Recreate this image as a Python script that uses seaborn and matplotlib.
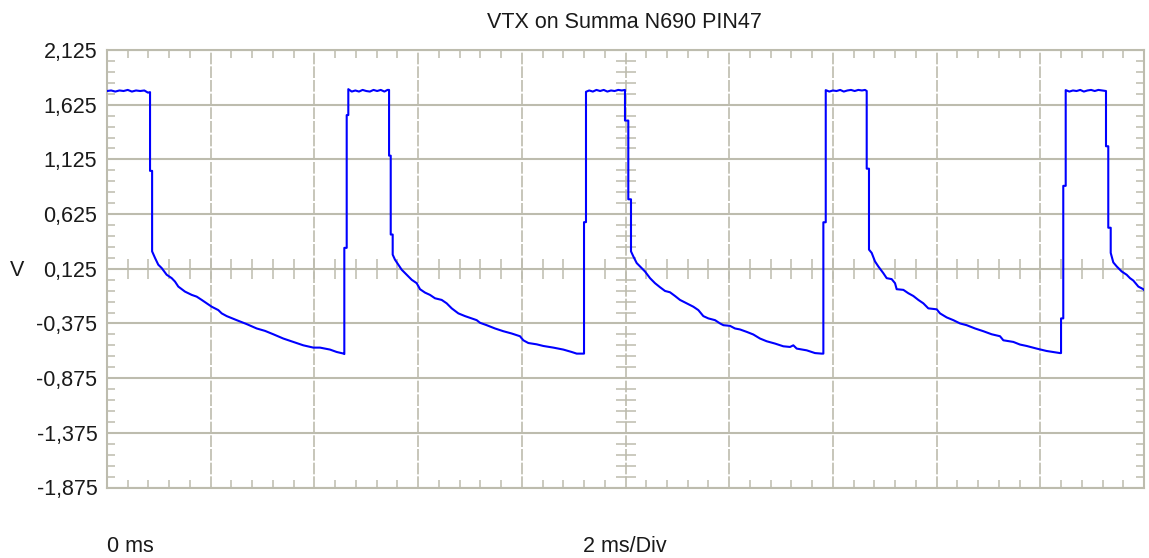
import numpy as np
import pandas as pd
import matplotlib
matplotlib.use("Agg")
import matplotlib.pyplot as plt
from matplotlib.ticker import FuncFormatter
import seaborn as sns

# --- trace values (time in ms, level in V) ---
# start: high level, then first drop
t_start = [0.00, 0.08, 0.16, 0.24, 0.32, 0.40, 0.48, 0.56, 0.64, 0.72, 0.79, 0.83, 0.83, 0.87, 0.87]
v_start = [1.75, 1.755, 1.745, 1.755, 1.75, 1.76, 1.745, 1.755, 1.75, 1.755, 1.735, 1.74, 1.02, 1.02, 0.284]

t_decay1 = [0.926, 0.989, 1.055, 1.151, 1.248, 1.311, 1.375, 1.504, 1.634, 1.730, 1.827, 2.019, 2.147,
            2.212, 2.309, 2.501, 2.694, 2.887, 3.047, 3.207, 3.400, 3.593, 3.786, 3.979, 4.108, 4.301,
            4.430, 4.557, 4.577]
v_decay1 = [0.224, 0.162, 0.131, 0.070, 0.039, 0.008, -0.038, -0.084, -0.114, -0.130, -0.160, -0.222, -0.253,
            -0.283, -0.308, -0.345, -0.381, -0.421, -0.443, -0.474, -0.513, -0.544, -0.575, -0.596, -0.596, -0.614,
            -0.636, -0.650, -0.655]

t_pulse2 = [4.577, 4.623, 4.623, 4.654, 4.654, 4.72, 4.79, 4.86, 4.93, 5.00, 5.07, 5.14, 5.21, 5.28, 5.35,
            5.41, 5.44, 5.44, 5.472, 5.472, 5.51, 5.51]
v_pulse2 = [0.316, 0.316, 1.53, 1.53, 1.767, 1.745, 1.755, 1.745, 1.76, 1.75, 1.745, 1.76, 1.75, 1.76, 1.745,
            1.76, 1.76, 1.159, 1.159, 0.438, 0.438, 0.254]

t_decay2 = [5.554, 5.618, 5.684, 5.780, 5.877, 5.973, 6.037, 6.133, 6.229, 6.326, 6.455, 6.551, 6.648,
            6.776, 6.905, 7.034, 7.130, 7.194, 7.323, 7.483, 7.643, 7.805, 7.965, 8.029, 8.126, 8.287,
            8.415, 8.608, 8.801, 8.962, 9.059, 9.200]
v_decay2 = [0.208, 0.162, 0.116, 0.070, 0.024, -0.007, -0.062, -0.093, -0.114, -0.145, -0.160, -0.191, -0.237,
            -0.283, -0.308, -0.329, -0.345, -0.369, -0.391, -0.421, -0.446, -0.467, -0.492, -0.529, -0.554, -0.566,
            -0.581, -0.596, -0.614, -0.636, -0.651, -0.651]

t_pulse3 = [9.200, 9.238, 9.238, 9.30, 9.37, 9.44, 9.51, 9.58, 9.65, 9.72, 9.79, 9.86, 9.93, 9.99,
            9.99, 10.054, 10.054, 10.106, 10.106]
v_pulse3 = [0.551, 0.551, 1.743, 1.755, 1.745, 1.76, 1.75, 1.76, 1.745, 1.755, 1.75, 1.76, 1.755, 1.76,
            1.48, 1.48, 0.76, 0.76, 0.284]

t_decay3 = [10.151, 10.216, 10.280, 10.376, 10.473, 10.569, 10.666, 10.762, 10.858, 10.955, 11.051, 11.180,
            11.308, 11.405, 11.501, 11.598, 11.727, 11.823, 11.888, 12.015, 12.112, 12.208, 12.337, 12.465,
            12.594, 12.723, 12.883, 13.044, 13.173, 13.237, 13.302, 13.495, 13.655, 13.784, 13.816]
v_decay3 = [0.238, 0.177, 0.146, 0.100, 0.039, -0.007, -0.044, -0.078, -0.090, -0.124, -0.160, -0.191,
            -0.222, -0.253, -0.308, -0.329, -0.345, -0.375, -0.391, -0.397, -0.421, -0.430, -0.452, -0.476,
            -0.513, -0.538, -0.559, -0.584, -0.590, -0.575, -0.605, -0.621, -0.646, -0.651, -0.651]

t_pulse4 = [13.816, 13.862, 13.862, 13.93, 14.00, 14.07, 14.14, 14.21, 14.28, 14.35, 14.42, 14.49, 14.56,
            14.62, 14.652, 14.652, 14.696, 14.696]
v_pulse4 = [0.55, 0.55, 1.758, 1.745, 1.755, 1.75, 1.76, 1.745, 1.755, 1.76, 1.75, 1.76, 1.755,
            1.76, 1.75, 1.04, 1.04, 0.300]

t_decay4 = [14.748, 14.812, 14.876, 14.972, 15.037, 15.134, 15.198, 15.230, 15.359, 15.455, 15.551, 15.648,
            15.744, 15.840, 16.002, 16.066, 16.195, 16.323, 16.452, 16.580, 16.741, 16.901, 17.062, 17.223,
            17.287, 17.480, 17.608, 17.737, 17.930, 18.123, 18.380, 18.400]
v_decay4 = [0.270, 0.192, 0.146, 0.085, 0.039, 0.030, -0.007, -0.062, -0.068, -0.099, -0.124, -0.160,
            -0.191, -0.237, -0.246, -0.283, -0.320, -0.345, -0.375, -0.391, -0.421, -0.446, -0.474, -0.492,
            -0.529, -0.544, -0.568, -0.581, -0.605, -0.627, -0.646, -0.646]

t_pulse5 = [18.400, 18.443, 18.443, 18.490, 18.490, 18.56, 18.63, 18.70, 18.77, 18.84, 18.91, 18.98, 19.05,
            19.12, 19.19, 19.267, 19.267, 19.311, 19.311, 19.358, 19.358]
v_pulse5 = [-0.329, -0.329, 0.883, 0.883, 1.758, 1.745, 1.755, 1.75, 1.76, 1.745, 1.755, 1.76, 1.75,
            1.76, 1.755, 1.75, 1.245, 1.245, 0.5, 0.5, 0.27]

t_decay5 = [19.408, 19.474, 19.570, 19.666, 19.730, 19.794, 19.891, 19.987, 20.053]
v_decay5 = [0.183, 0.146, 0.100, 0.070, 0.039, 0.017, -0.038, -0.062, -0.099]

y_ticks = [-1.875, -1.375, -0.875, -0.375, 0.125, 0.625, 1.125, 1.625, 2.125]
x_divs = [0, 2, 4, 6, 8, 10, 12, 14, 16, 18, 20]

trace = pd.DataFrame({
    "t": t_start + t_decay1 + t_pulse2 + t_decay2 + t_pulse3 + t_decay3 + t_pulse4 + t_decay4 + t_pulse5 + t_decay5,
    "v": v_start + v_decay1 + v_pulse2 + v_decay2 + v_pulse3 + v_decay3 + v_pulse4 + v_decay4 + v_pulse5 + v_decay5,
})

# --- figure ---
sns.set_style("white")
plt.rcParams['font.family'] = ['Liberation Sans', 'DejaVu Sans']

grid_col = '#bdbcae'
fig = plt.figure(figsize=(11.49, 5.58), dpi=100)
ax = fig.add_axes([107 / 1149, 1 - 487.5 / 558, (1144 - 107) / 1149, (487.5 - 50) / 558])

sns.lineplot(data=trace, x="t", y="v", sort=False, estimator=None, color='#0000ff', lw=1.5, ax=ax, zorder=5)

ax.set_xlim(0, 20)
ax.set_ylim(-1.875, 2.125)
ax.set_xticks(x_divs)
ax.set_yticks(y_ticks)
ax.set_xticks(np.arange(0, 20.01, 0.4), minor=True)
ax.set_yticks(np.arange(-1.875, 2.13, 0.1), minor=True)
ax.yaxis.set_major_formatter(FuncFormatter(lambda v, p: f"{v:.3f}".replace('.', ',')))

ax.grid(axis='y', which='major', color=grid_col, lw=1.5)
ax.grid(axis='x', which='major', color=grid_col, lw=1.2, linestyle=(0, (7, 1.2)))
ax.tick_params(which='major', length=0, labelsize=15.5, pad=7, labelcolor='#1a1a1a')
ax.tick_params(axis='x', labelbottom=False)
ax.tick_params(which='minor', direction='in', length=5.5, width=1.1, color=grid_col,
               top=True, right=True, bottom=True, left=True)
for sp in ax.spines.values():
    sp.set_color(grid_col)
    sp.set_linewidth(1.5)

# centre cross ticks, scope style
xm = np.arange(0.4, 20, 0.4)
ax.plot(xm, np.full_like(xm, 0.125), ls='none', marker='|', ms=15, mew=1.1, color=grid_col, zorder=2)
ym = np.arange(-1.775, 2.1, 0.1)
ax.plot(np.full_like(ym, 10.0), ym, ls='none', marker='_', ms=15, mew=1.1, color=grid_col, zorder=2)
ax.set_xlabel('')
ax.set_ylabel('')

fig.text(624 / 1149, 1 - 23 / 558, 'VTX on Summa N690 PIN47', ha='center', va='center', fontsize=15.5, color='#1a1a1a')
fig.text(17 / 1149, 1 - 270 / 558, 'V', ha='center', va='center', fontsize=15.5, color='#1a1a1a')
fig.text(107 / 1149, 1 - 547 / 558, '0 ms', ha='left', va='center', fontsize=15.5, color='#1a1a1a')
fig.text(625 / 1149, 1 - 547 / 558, '2 ms/Div', ha='center', va='center', fontsize=15.5, color='#1a1a1a')

fig.savefig('out.png', dpi=100)
